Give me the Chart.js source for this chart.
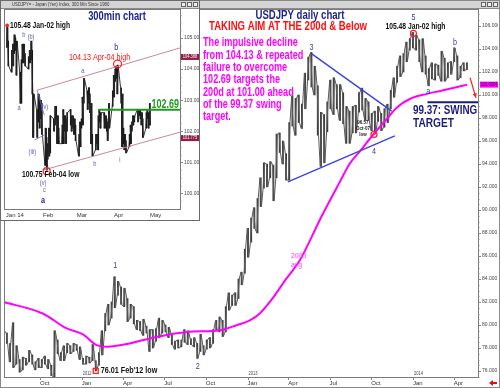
<!DOCTYPE html>
<html>
<head>
<meta charset="utf-8">
<script src="https://cdn.jsdelivr.net/npm/chart.js@4.4.1/dist/chart.umd.min.js"></script>
<style>
  html, body { margin: 0; padding: 0; background: #fff; }
  #wrap { position: relative; width: 500px; height: 388px; overflow: hidden; }
  #mainChart { position: absolute; left: 0; top: 0; }
  #inset { position: absolute; left: 0; top: 0; width: 200px; height: 221px; background: #fff; }
</style>
</head>
<body>
<div id="wrap">
  <canvas id="mainChart" width="500" height="388"></canvas>
  <div id="inset"><canvas id="insetChart" width="200" height="221"></canvas></div>
</div>
<script>
// ─── Données : graphique journalier (barres hebdo, plus bas / plus haut) ───
const firstWeek = '2011-07-11';
const weekLow = [
  78.9, 78.4, 76.8, 76.3, 76.6, 75.9, 76.1, 76.5, 76.8, 76.6, 76.1, 76.3, 76.3, 76.6, 76.2, 75.6,
  75.4, 77.5, 76.9, 76.9, 77.6, 77.5, 77.7, 77.8, 77.0,
  76.6, 76.6, 76.7, 76.9, 76.0, 76.5, 77.4, 79.5, 80.0, 80.6, 81.5, 82.6, 81.8, 81.6, 80.3, 80.6,
  80.1, 79.6, 79.5, 79.1, 79.3, 77.7, 78.0, 78.6, 78.9, 79.3, 79.4, 78.9, 78.3, 77.9, 78.0, 78.1,
  78.5, 78.3, 78.3, 78.1, 77.1, 77.7, 77.4, 77.9, 78.0, 78.4, 79.6, 79.4, 79.0, 79.4, 81.3, 81.7,
  81.7, 82.3, 83.5, 84.5, 85.9,
  87.2, 88.4, 88.0, 90.3, 91.9, 92.0, 92.8, 90.8, 92.8, 95.0, 94.0, 92.6, 92.6, 97.3, 96.5, 97.6,
  97.1, 98.8, 101.3, 100.7, 100.0, 96.5, 93.8, 94.1, 96.8, 98.8, 98.3, 98.8, 97.8, 97.5, 95.8,
  95.8, 96.7, 96.7, 98.5, 98.7, 97.8, 97.8, 96.9, 96.6, 97.7, 96.9, 97.2, 97.6, 98.8, 99.8, 101.1,
  101.6, 102.0, 102.9, 103.9, 104.1,
  103.9, 102.9, 102.0, 101.8, 100.8, 101.4, 101.3, 101.7, 101.2, 101.2, 101.5, 101.8, 102.9,
  101.3, 101.5, 102.1, 102.2
];
const weekHigh = [
  79.5, 79.3, 78.4, 80.2, 78.2, 77.0, 77.2, 77.1, 77.8, 77.4, 76.8, 77.1, 77.0, 77.3, 77.0, 76.5,
  79.5, 78.7, 77.6, 78.2, 78.4, 78.2, 78.4, 78.3, 78.1,
  77.1, 77.3, 77.2, 78.3, 76.9, 77.6, 79.5, 81.0, 81.8, 82.0, 84.2, 83.8, 83.3, 83.2, 82.3, 81.8,
  81.6, 80.4, 80.3, 80.5, 79.9, 79.6, 79.6, 79.7, 80.6, 80.4, 80.0, 79.8, 79.2, 78.6, 78.7, 78.7,
  79.6, 79.5, 78.8, 78.9, 78.4, 79.2, 78.2, 78.7, 78.9, 79.6, 80.4, 80.7, 80.4, 81.6, 82.8, 82.6,
  82.8, 84.0, 84.6, 86.6, 88.4,
  89.3, 90.2, 91.0, 92.8, 94.1, 94.0, 94.2, 93.9, 96.6, 96.7, 96.0, 94.9, 97.6, 99.9, 99.7, 100.0,
  99.2, 101.9, 103.3, 103.7, 102.5, 100.8, 98.5, 98.3, 99.4, 101.3, 101.5, 100.9, 100.9, 100.2, 99.0,
  98.6, 99.0, 99.1, 100.2, 100.6, 99.7, 99.4, 98.4, 98.6, 99.0, 98.4, 98.8, 99.2, 100.4, 101.5, 102.5,
  103.4, 103.6, 104.6, 104.9, 105.44,
  105.2, 104.8, 104.9, 103.4, 102.3, 102.8, 102.7, 102.6, 103.8, 103.2, 102.8, 102.9, 104.1,
  103.4, 102.5, 102.8, 102.8
];

// Moyenne mobile 200 jours
const maDates = [
  '2011-07-13', '2011-10-07', '2011-11-29', '2012-01-03', '2012-02-03', '2012-02-25', '2012-03-25',
  '2012-04-16', '2012-06-06', '2012-08-21', '2012-11-02', '2012-12-09', '2013-01-06', '2013-01-28',
  '2013-02-23', '2013-03-28', '2013-04-26', '2013-06-14', '2013-07-23', '2013-08-14', '2013-09-10',
  '2013-10-04', '2013-11-04', '2013-11-26', '2013-12-25', '2014-02-01', '2014-03-02', '2014-03-31',
  '2014-05-01'
];
const maValues = [
  82.0, 81.0, 79.7, 79.2, 78.25, 78.1, 78.25, 78.4, 78.9, 79.4, 79.55, 80.0, 80.4, 81.0,
  82.2, 84.05, 85.6, 89.5, 92.4, 94.0, 95.3, 96.5, 97.9, 98.9, 99.65, 100.1, 100.35, 100.6, 100.9
];

const xTickDates = ['2011-10-01', '2012-01-01', '2012-04-01', '2012-07-01', '2012-10-01', '2013-01-01',
                    '2013-04-01', '2013-07-01', '2013-10-01', '2014-01-01', '2014-04-01'];
const xTickLabels = ['Oct', 'Jan', 'Apr', 'Jul', 'Oct', 'Jan', 'Apr', 'Jul', 'Oct', 'Jan', 'Apr'];
const yearLabels = ['2012', '2013', '2014'];
const yearDates = ['2012-01-01', '2013-01-01', '2014-01-01'];
const yTickValues = [76, 78, 80, 82, 84, 86, 88, 90, 92, 94, 96, 98, 100, 102, 104, 106];

// ─── Données : encart 300 min (plus bas / plus haut par séance) ───
const insetStart = '2014-01-02';
const dayLow = [
  104.7, 104.1, 103.9, 104.1, 104.5, 104.6, 103.8, 102.9, 102.9, 104.2, 104.2, 104.1, 104.0, 104.2,
  104.3, 103.2, 101.8, 101.8, 102.3, 102.1, 102.4, 101.9,
  100.9, 100.75, 101.1, 101.2, 101.3, 102.0, 102.2, 102.4, 101.6, 101.6, 101.6, 101.6, 102.0, 101.6,
  102.0, 102.2, 102.0, 102.1, 101.9, 101.7,
  101.2, 101.5, 102.1, 102.2, 102.9, 102.7, 102.9, 102.6, 101.6, 101.2, 101.4, 101.6, 101.4, 102.3,
  102.1, 102.1, 102.1, 102.0, 101.7, 102.1, 102.8,
  103.1, 103.6, 103.7, 103.2, 102.9, 101.5, 101.6, 101.4, 101.3, 101.5, 101.6, 102.0, 102.2, 102.3,
  102.3, 102.5, 102.4, 102.2, 101.8, 102.1, 102.4, 102.1, 102.2
];
const dayHigh = [
  105.45, 104.9, 104.6, 104.8, 105.1, 105.0, 104.9, 103.9, 104.3, 104.8, 104.8, 104.5, 104.4, 104.6,
  104.9, 104.6, 103.2, 102.7, 103.2, 103.1, 103.0, 102.9,
  102.1, 101.8, 101.6, 102.1, 102.5, 102.4, 102.8, 102.8, 102.5, 102.1, 102.2, 102.7, 102.5, 102.4,
  102.6, 102.7, 102.5, 102.5, 102.4, 102.2,
  101.9, 102.3, 102.4, 103.1, 103.7, 103.3, 103.4, 103.2, 102.9, 101.9, 101.9, 101.9, 102.5, 102.7,
  102.6, 102.6, 102.5, 102.4, 102.3, 102.9, 103.3,
  103.8, 104.0, 104.1, 104.13, 103.4, 103.2, 102.1, 101.9, 101.7, 101.9, 102.2, 102.3, 102.5, 102.5,
  102.7, 102.7, 102.7, 102.6, 102.4, 102.6, 102.7, 102.6, 102.9
];
const insetTickDates = ['2014-01-01', '2014-02-01', '2014-03-01', '2014-04-01', '2014-05-01'];
const insetTickLabels = ['Jan 14', 'Feb', 'Mar', 'Apr', 'May'];
const insetYTicks = [100, 101, 102, 103, 104, 105];

// ─── Outils dates ───────────────────────
const utc = s => { const [y, m, d] = s.split('-').map(Number); return Date.UTC(y, m - 1, d); };
const dayOf = s => (utc(s) - utc('2011-07-01')) / 86400000;     // axe principal
const ddOf = s => (utc(s) - utc('2014-01-01')) / 86400000;      // axe encart

const FONT = '"Liberation Sans", Arial, sans-serif';
function label(ctx, s, x, y, o) {
  ctx.save();
  ctx.font = o.font + ' ' + FONT;
  ctx.fillStyle = o.color || '#000';
  ctx.textAlign = o.align || 'center';
  ctx.textBaseline = 'middle';
  ctx.translate(x, y);
  ctx.scale(o.sx || 0.8, 1);
  ctx.fillText(s, 0, 0);
  ctx.restore();
}
function seg(ctx, x1, y1, x2, y2, color, w) {
  ctx.save();
  ctx.strokeStyle = color; ctx.lineWidth = w || 1;
  ctx.beginPath(); ctx.moveTo(x1, y1); ctx.lineTo(x2, y2); ctx.stroke();
  ctx.restore();
}
function ring(ctx, x, y, r, color) {
  ctx.save();
  ctx.strokeStyle = color; ctx.lineWidth = 1.2;
  ctx.beginPath(); ctx.arc(x, y, r, 0, Math.PI * 2); ctx.stroke();
  ctx.restore();
}
function titleBar(ctx, w, bx) {
  ctx.fillStyle = '#d4d4d4';
  ctx.fillRect(0, 0, w, 9);
  ctx.strokeStyle = '#8a8a8a';
  ctx.strokeRect(0.5, 0.5, w - 1, 8);
  [0, 6, 12].forEach(o => {
    ctx.fillStyle = '#eee'; ctx.fillRect(bx + o, 2, 5, 5);
    ctx.strokeStyle = '#666'; ctx.strokeRect(bx + o + 0.5, 2.5, 4, 4);
  });
}
// tracé en zigzag bas/haut pour imiter les barres journalières serrées
function zigzag(xs, lows, highs, dx) {
  const pts = [];
  xs.forEach((x, i) => {
    if (i % 2 === 0) { pts.push({ x: x - dx, y: lows[i] }, { x: x + dx, y: highs[i] }); }
    else { pts.push({ x: x - dx, y: highs[i] }, { x: x + dx, y: lows[i] }); }
  });
  return pts;
}

// ─── Décor du graphique principal ───────
const mainDecor = {
  id: 'mainDecor',
  beforeDraw(chart) {
    const { ctx } = chart;
    ctx.save(); ctx.fillStyle = '#fff'; ctx.fillRect(0, 0, chart.width, chart.height); ctx.restore();
  },
  afterDraw(chart) {
    const { ctx, chartArea: a, scales: { x, y } } = chart;
    const X = d => x.getPixelForValue(dayOf(d));
    const Y = v => y.getPixelForValue(v);
    ctx.save();

    // cadre
    titleBar(ctx, 500, 481);
    ctx.strokeStyle = '#8a8a8a';
    ctx.strokeRect(0.5, 0.5, 499, 387);
    ctx.strokeStyle = '#7a7a7a';
    ctx.strokeRect(a.left - 0.5, a.top - 0.5, a.width + 1, a.height + 1);
    seg(ctx, 0, 387.5, 500, 387.5, '#888', 1);

    // graduations mineures de l'axe des prix
    for (let v = 75.5; v <= 107; v += 0.5) {
      const py = Math.round(Y(v)) + 0.5;
      seg(ctx, a.right, py, a.right + (v % 2 === 0 ? 3 : 1.5), py, '#888', 1);
    }
    xTickDates.forEach(d => seg(ctx, Math.round(X(d)) + 0.5, a.bottom, Math.round(X(d)) + 0.5, a.bottom + 3, '#888', 1));
    yearLabels.forEach((t, i) => label(ctx, t, X(yearDates[i]) + 1, a.bottom - 3, { font: '5px', color: '#444', align: 'left' }));

    // titres
    label(ctx, 'USDJPY daily chart', 300, 16, { font: 'bold 12px', color: '#1c2590', sx: 0.8 });
    label(ctx, 'TAKING AIM AT THE 200d & Below', 288, 27, { font: 'bold 12px', color: '#ff1010', sx: 0.8 });
    const para = ['The impulsive decline', 'from 104.13 & repeated', 'failure to overcome',
                  '102.69 targets the', '200d at 101.00 ahead', 'of the 99.37 swing', 'target.'];
    para.forEach((t, i) => label(ctx, t, 203, 43 + i * 12.3, { font: 'bold 12px', color: '#ff00ff', align: 'left', sx: 0.76 }));

    // lignes de triangle
    seg(ctx, X('2013-05-22'), Y(103.6), X('2013-11-15'), Y(98.6), '#3a45d8', 1.4);
    seg(ctx, X('2013-03-31'), Y(92.45), X('2013-11-22'), Y(96.45), '#3a45d8', 1.4);

    // objectif 99.37
    seg(ctx, X('2014-02-02'), Y(99.37), a.right, Y(99.37), '#1c1c80', 2);
    label(ctx, '99.37: SWING', 413, 110, { font: 'bold 13px', color: '#1c1c80', align: 'left', sx: 0.76 });
    label(ctx, 'TARGET', 413, 123, { font: 'bold 13px', color: '#1c1c80', align: 'left', sx: 0.78 });

    // flèche rouge
    const ax1 = X('2014-05-07'), ay1 = Y(101.5), ax2 = X('2014-05-20'), ay2 = Y(99.75);
    seg(ctx, ax1, ay1, ax2, ay2, '#ff2020', 1.2);
    const ang = Math.atan2(ay2 - ay1, ax2 - ax1);
    ctx.fillStyle = '#ff2020';
    ctx.beginPath();
    ctx.moveTo(ax2, ay2);
    ctx.lineTo(ax2 - 5 * Math.cos(ang - 0.45), ay2 - 5 * Math.sin(ang - 0.45));
    ctx.lineTo(ax2 - 5 * Math.cos(ang + 0.45), ay2 - 5 * Math.sin(ang + 0.45));
    ctx.fill();

    // repères de vagues
    const wave = { font: '9px', color: '#3a3aa0' };
    label(ctx, '3', X('2013-05-22'), Y(103.73) - 5, wave);
    label(ctx, '5', X('2014-01-02'), Y(105.44) - 15, wave);
    label(ctx, 'b', X('2014-04-04'), Y(104.13) - 5, wave);
    label(ctx, 'a', X('2014-02-04'), Y(100.75) + 5, wave);
    label(ctx, '4', X('2013-10-07'), Y(96.57) + 17, wave);
    label(ctx, '1', X('2012-03-15'), Y(84.18) - 11, wave);
    label(ctx, '2', X('2012-09-13'), Y(77.13) + 8, wave);

    // plus haut / plus bas
    ring(ctx, X('2014-01-02'), Y(105.44) + 1, 3, '#ff2020');
    label(ctx, '105.48 Jan-02 high', X('2014-01-02') + 2, Y(105.44) - 6, { font: 'bold 9px', color: '#111', sx: 0.75 });
    ring(ctx, X('2013-10-07'), Y(96.57), 3, '#ff2020');
    ['96.57', 'Oct-07', 'low'].forEach((t, i) =>
      label(ctx, t, X('2013-10-07') - 11, Y(96.57) - 12 + i * 6, { font: 'bold 5px', color: '#222', sx: 0.9 }));
    ctx.strokeStyle = '#ff2020'; ctx.lineWidth = 1.3;
    ctx.strokeRect(X('2012-02-01') - 2.5, Y(76.01) - 2.5, 5, 5);
    label(ctx, "76.01 Feb'12 low", X('2012-02-01') + 5, Y(76.01), { font: 'bold 9px', color: '#111', align: 'left', sx: 0.8 });

    label(ctx, '200d', 291, 256, { font: '8px', color: '#ff40ff', align: 'left', sx: 0.85 });
    label(ctx, 'avg', 291, 265, { font: '8px', color: '#ff40ff', align: 'left', sx: 0.85 });

    // étiquette de la moyenne sur l'axe
    const my = Y(maValues[maValues.length - 1]);
    ctx.fillStyle = '#ff00ff';
    ctx.fillRect(a.right + 2, my - 3, 18, 6);
    label(ctx, '101.0004', a.right + 11, my, { font: '5px', color: '#400040', sx: 0.8 });

    // petite icône rouge en bas à droite
    ctx.fillStyle = '#e01010';
    ctx.beginPath();
    ctx.moveTo(489, 383); ctx.lineTo(493, 380); ctx.lineTo(493, 382); ctx.lineTo(497, 382);
    ctx.lineTo(497, 384); ctx.lineTo(493, 384); ctx.lineTo(493, 386); ctx.closePath(); ctx.fill();
    ctx.restore();
  }
};

const weekX = weekLow.map((lo, i) => dayOf(firstWeek) + 7 * i + 2);
const barPoints = weekLow.map((lo, i) => ({ x: weekX[i], y: [lo, weekHigh[i]] }));
const maPoints = maDates.map((d, i) => ({ x: dayOf(d), y: maValues[i] }));

new Chart(document.getElementById('mainChart'), {
  type: 'bar',
  data: {
    datasets: [
      { type: 'line', data: maPoints, borderColor: '#ff00ff', borderWidth: 2, pointRadius: 0,
        cubicInterpolationMode: 'monotone', order: 0 },
      { type: 'line', data: zigzag(weekX, weekLow, weekHigh, 1.6), borderColor: '#5a5a5a', borderWidth: 1,
        pointRadius: 0, tension: 0, order: 1 },
      { type: 'bar', data: barPoints, backgroundColor: '#3c3c3c', barThickness: 1.2, order: 2 }
    ]
  },
  options: {
    responsive: false,
    animation: false,
    layout: { padding: { left: 5, top: 10, right: 2, bottom: 0 } },
    plugins: { legend: { display: false }, tooltip: { enabled: false } },
    scales: {
      x: {
        type: 'linear', min: 14.8, max: 1058.5, offset: false,
        grid: { display: false, drawTicks: false }, border: { display: false },
        afterBuildTicks: s => { s.ticks = xTickDates.map(d => ({ value: dayOf(d) })); },
        afterFit: s => { s.height = 11; },
        ticks: { autoSkip: false, maxRotation: 0, align: 'start', padding: 3, color: '#333',
                 font: { size: 6, family: FONT }, callback: (v, i) => xTickLabels[i] }
      },
      y: {
        position: 'right', min: 75.48, max: 107.39,
        grid: { display: false, drawTicks: false }, border: { display: false },
        afterBuildTicks: s => { s.ticks = yTickValues.map(v => ({ value: v })); },
        afterFit: s => { s.width = 20; },
        ticks: { padding: 4, color: '#444', font: { size: 5, family: FONT }, callback: v => v.toFixed(3) }
      }
    }
  },
  plugins: [mainDecor]
});

// ─── Encart 300 min ─────────────────────
const tradingDays = [];
for (let t = utc(insetStart); tradingDays.length < dayLow.length; t += 86400000) {
  const wd = new Date(t).getUTCDay();
  if (wd !== 0 && wd !== 6) tradingDays.push((t - utc('2014-01-01')) / 86400000);
}
const insetBars = dayLow.map((lo, i) => ({ x: tradingDays[i], y: [lo, dayHigh[i]] }));

const insetDecor = {
  id: 'insetDecor',
  beforeDraw(chart) {
    const { ctx } = chart;
    ctx.save(); ctx.fillStyle = '#fff'; ctx.fillRect(0, 0, chart.width, chart.height); ctx.restore();
  },
  afterDraw(chart) {
    const { ctx, chartArea: a, scales: { x, y } } = chart;
    const X = d => x.getPixelForValue(ddOf(d));
    const Y = v => y.getPixelForValue(v);
    ctx.save();
    titleBar(ctx, 200, 181);
    label(ctx, 'USDJPY= - Japan (Yen) Index, 300 Min Since 1980', 12, 4.5, { font: '5px', color: '#333', align: 'left', sx: 0.85 });
    ctx.strokeStyle = '#6a6a6a';
    ctx.strokeRect(0.5, 0.5, 199, 220);
    ctx.strokeStyle = '#7a7a7a';
    ctx.strokeRect(a.left - 0.5, a.top - 0.5, a.width + 1, a.height + 1);
    for (let v = 99.75; v <= 105.75; v += 0.25) {
      const py = Math.round(Y(v)) + 0.5;
      seg(ctx, a.right, py, a.right + (Number.isInteger(v) ? 3 : 1.5), py, '#888', 1);
    }

    // canal
    seg(ctx, X('2014-01-27'), Y(103.32), a.right, Y(104.68), '#c9899a', 1);
    seg(ctx, X('2014-02-01'), Y(100.75), a.right, Y(101.97), '#c9899a', 1);
    seg(ctx, X('2014-01-27'), Y(103.32), X('2014-02-02'), Y(102.52), '#6a70d0', 0.8);
    seg(ctx, X('2014-01-25'), Y(101.72), X('2014-02-02'), Y(101.88), '#6a70d0', 0.8);
    [[104.39, '104.388'], [101.78, '101.775']].forEach(([v, t]) => {
      ctx.fillStyle = '#8e1f45';
      ctx.fillRect(a.right + 1, Y(v) - 3, 18, 6);
      label(ctx, t, a.right + 10, Y(v), { font: '5px', color: '#fff', sx: 0.8 });
    });

    // 102.69
    seg(ctx, X('2014-03-19'), Y(102.69), a.right, Y(102.69), '#1f9a1f', 2);
    label(ctx, '102.69', a.right - 1, Y(102.69) - 5, { font: 'bold 12px', color: '#1f9a1f', align: 'right', sx: 0.75 });

    label(ctx, '300min chart', 117, 17, { font: 'bold 12px', color: '#1c2590', sx: 0.78 });

    ctx.fillStyle = '#ff2020';
    ctx.beginPath(); ctx.arc(X('2014-01-02'), Y(105.4), 1.8, 0, Math.PI * 2); ctx.fill();
    label(ctx, '105.48 Jan-02 high', X('2014-01-02') + 3, Y(105.4), { font: 'bold 9px', color: '#111', align: 'left', sx: 0.75 });
    ring(ctx, X('2014-04-04'), Y(104.13) - 1, 4, '#ff2020');
    label(ctx, '104.13 Apr-04 high', X('2014-04-04') - 18, Y(104.13) - 8, { font: '9px', color: '#ff1010', sx: 0.8 });
    ring(ctx, X('2014-02-04'), Y(100.75) + 1, 3.5, '#ff2020');
    label(ctx, '100.75 Feb-04 low', X('2014-02-04') + 4, Y(100.75) - 4 + 8, { font: 'bold 9px', color: '#111', sx: 0.75 });

    const w = { font: '7px', color: '#5a5abf' };
    label(ctx, 'b', X('2014-01-16'), Y(105.09), w);
    label(ctx, '(b)', X('2014-01-22'), Y(105.03), w);
    label(ctx, 'a', X('2014-01-12'), Y(102.74), w);
    label(ctx, '(iv)', X('2014-02-02'), Y(102.78), w);
    label(ctx, '(iii)', X('2014-01-23'), Y(101.33), w);
    label(ctx, '(v)', X('2014-02-01'), Y(100.33), w);
    label(ctx, 'c', X('2014-02-02'), Y(100.11), w);
    label(ctx, 'a', X('2014-02-01'), Y(99.77), { font: 'bold 9px', color: '#1c2590' });
    label(ctx, 'a', X('2014-03-06'), Y(103.94), w);
    label(ctx, 'b', X('2014-03-16'), Y(100.94), w);
    label(ctx, 'b', X('2014-04-03'), Y(104.68), { font: '9px', color: '#1c2590' });
    label(ctx, 'i', X('2014-04-06'), Y(101.07), w);
    ctx.restore();
  }
};

new Chart(document.getElementById('insetChart'), {
  type: 'bar',
  data: {
    datasets: [
      { type: 'line', data: zigzag(tradingDays, dayLow, dayHigh, 0.45), borderColor: '#222', borderWidth: 0.9,
        pointRadius: 0, tension: 0, order: 0 },
      { type: 'bar', data: insetBars, backgroundColor: '#111', barThickness: 0.9, order: 1 }
    ]
  },
  options: {
    responsive: false,
    animation: false,
    layout: { padding: { left: 5, top: 10, right: 1, bottom: 0 } },
    plugins: { legend: { display: false }, tooltip: { enabled: false } },
    scales: {
      x: {
        type: 'linear', min: -0.7, max: 145, offset: false,
        grid: { display: false, drawTicks: false }, border: { display: false },
        afterBuildTicks: s => { s.ticks = insetTickDates.map(d => ({ value: ddOf(d) })); },
        afterFit: s => { s.height = 12; },
        ticks: { autoSkip: false, maxRotation: 0, align: 'start', padding: 3, color: '#333',
                 font: { size: 6, family: FONT }, callback: (v, i) => insetTickLabels[i] }
      },
      y: {
        position: 'right', min: 99.5, max: 105.9,
        grid: { display: false, drawTicks: false }, border: { display: false },
        afterBuildTicks: s => { s.ticks = insetYTicks.map(v => ({ value: v })); },
        afterFit: s => { s.width = 19; },
        ticks: { padding: 4, color: '#444', font: { size: 5, family: FONT }, callback: v => v.toFixed(3) }
      }
    }
  },
  plugins: [insetDecor]
});
</script>
</body>
</html>
